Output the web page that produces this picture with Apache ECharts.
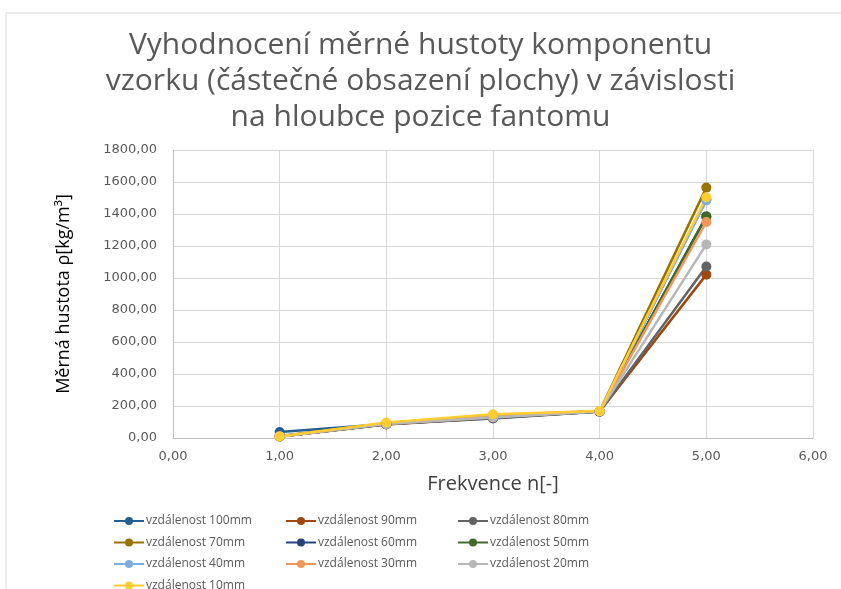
<!DOCTYPE html>
<html><head><meta charset="utf-8">
<script src="https://cdn.jsdelivr.net/npm/echarts@6/dist/echarts.min.js"></script>
<style>html,body{margin:0;padding:0;background:#fff}#c{width:841px;height:589px}</style>
</head><body><div id="c"></div>
<script>
const xValues = [1, 2, 3, 4, 5];
const seriesNames = ['vzdálenost 100mm','vzdálenost 90mm','vzdálenost 80mm','vzdálenost 70mm','vzdálenost 60mm','vzdálenost 50mm','vzdálenost 40mm','vzdálenost 30mm','vzdálenost 20mm','vzdálenost 10mm'];
const s100 = [38, 88, 122, 165, 1490];
const s90 = [10, 85, 125, 165, 1021];
const s80 = [10, 86, 126, 166, 1072];
const s70 = [12, 92, 140, 168, 1565];
const s60 = [10, 87, 128, 166, 1385];
const s50 = [10, 88, 130, 167, 1385];
const s40 = [10, 90, 135, 167, 1485];
const s30 = [10, 89, 132, 167, 1350];
const s20 = [10, 88, 128, 166, 1210];
const s10 = [10, 97, 148, 168, 1505];
const seriesValues = [s100, s90, s80, s70, s60, s50, s40, s30, s20, s10];
const colors = ['#255E91','#9E480E','#636363','#997300','#264478','#43682B','#7CAFDD','#F1975A','#B7B7B7','#FFCD33'];

const fmt = v => v.toFixed(2).replace('.', ',');
const chart = echarts.init(document.getElementById('c'));
const legendCols = [[0,3,6,9],[1,4,7],[2,5,8]];
const legendLeft = [108, 280, 452];
chart.setOption({
  animation: false,
  color: colors,
  graphic: [{type:'rect', shape:{x:6,y:13,width:850,height:600}, style:{fill:'none', stroke:'#d9d9d9', lineWidth:1}, silent:true}],
  title: {
    text: 'Vyhodnocení měrné hustoty komponentu\nvzorku (částečné obsazení plochy) v závislosti\nna hloubce pozice fantomu',
    left: 'center', top: 22,
    textStyle: {fontFamily: 'Open Sans', fontSize: 30, fontWeight: 'normal', color: '#595959', lineHeight: 36}
  },
  legend: legendCols.map((idx, i) => ({
    orient: 'vertical', left: legendLeft[i], top: 510, height: 100, itemGap: 9.5,
    itemWidth: 30, itemHeight: 10,
    data: idx.map(k => seriesNames[k]),
    textStyle: {fontFamily: 'Open Sans', fontSize: 12, color: '#595959', padding:[0,0,0,-3]}
  })),
  grid: {left: 173, right: 28, top: 150, bottom: 151},
  xAxis: {
    type: 'value', min: 0, max: 6, interval: 1,
    name: 'Frekvence n[-]', nameLocation: 'middle', nameGap: 36,
    nameTextStyle: {fontFamily: 'Open Sans', fontSize: 20, color: '#404040'},
    axisLine: {lineStyle: {color: '#bfbfbf'}},
    axisTick: {show: false},
    splitLine: {show: true, lineStyle: {color: '#d9d9d9'}},
    axisLabel: {formatter: fmt, fontFamily: 'DejaVu Sans', fontSize: 13, color: '#595959', margin: 12}
  },
  yAxis: {
    type: 'value', min: 0, max: 1800, interval: 200,
    name: 'Měrná hustota ρ[kg/m³]', nameLocation: 'middle', nameGap: 100,
    nameTextStyle: {fontFamily: 'Open Sans', fontSize: 18, color: '#000'},
    axisLine: {show: true, lineStyle: {color: '#bfbfbf'}},
    axisTick: {show: false},
    splitLine: {show: true, lineStyle: {color: '#d9d9d9'}},
    axisLabel: {formatter: fmt, fontFamily: 'DejaVu Sans', fontSize: 13, color: '#595959', margin: 16}
  },
  series: seriesNames.map((n, i) => ({
    name: n, type: 'line',
    data: xValues.map((x, j) => [x, seriesValues[i][j]]),
    symbol: 'circle', symbolSize: 10,
    lineStyle: {width: 2.5}
  }))
});
</script></body></html>
